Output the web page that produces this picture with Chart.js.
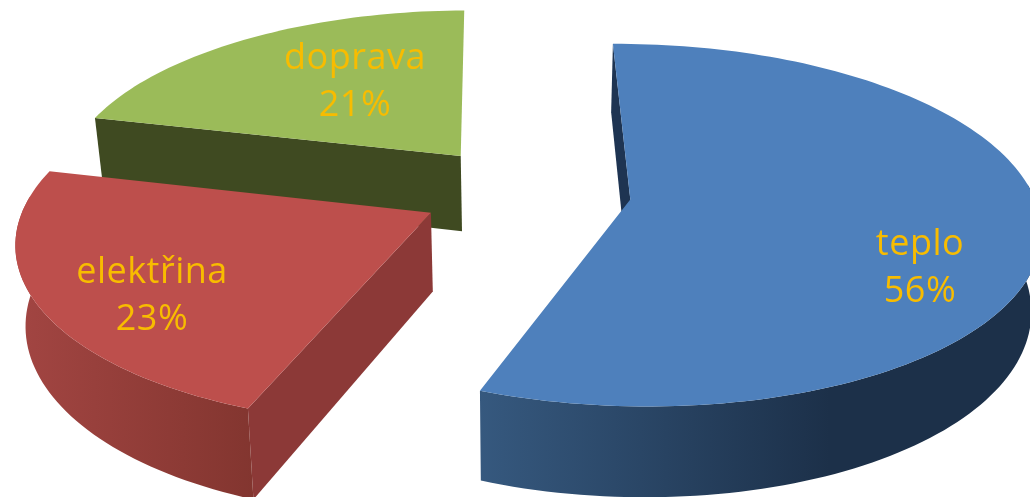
<!DOCTYPE html>
<html>
<head>
<meta charset="utf-8">
<script src="https://cdn.jsdelivr.net/npm/chart.js@4"></script>
<style>
  html, body { margin: 0; padding: 0; background: #fff; overflow: hidden; }
  canvas { display: block; }
</style>
</head>
<body>
<canvas id="energyPie" width="1030" height="497"></canvas>
<script>
const categories = ['teplo', 'elektřina', 'doprava'];
const shares = [56, 23, 21];

const topColors = ['#4e80bc', '#bd4f4c', '#9bbb59'];
const cutColors = ['#1e3452', '#8c3937', '#3f4a21'];
// outer wall shading, left to right on screen
const wallShades = [
    ['#36597f', '#1c3049', 477, 830],
    ['#a24542', '#82352f', 20, 258],
    ['#3f4a21', '#3f4a21', 90, 470]
];
const labelSpots = [[920, 245], [152, 273], [355, 59]];

// camera used for the tilted pie
const view = {
    radius: 405,
    originX: 525,
    originY: 200,
    tilt: 0.439,
    perspective: 0.00035,
    depth: 78,
    taper: 0.02,
    shiftZ: -20
};

function project(x, z, h) {
    const w = 1 - view.perspective * z;
    const s = (1 - view.taper * h) / w;
    return {
        x: view.originX + x * s,
        y: view.originY + (view.tilt * z + view.depth * h) / w
    };
}

function rimPoints(el, h) {
    const k = view.radius / el.outerRadius;
    const mid = (el.startAngle + el.endAngle) / 2;
    const ax = Math.cos(mid) * el.options.offset * k;
    const az = Math.sin(mid) * el.options.offset * k + view.shiftZ;
    const pts = [];
    const wall = [];
    const steps = Math.ceil((el.endAngle - el.startAngle) * 40);
    for (let i = 0; i <= steps; i++) {
        const a = el.startAngle + (el.endAngle - el.startAngle) * i / steps;
        const p = project(ax + Math.cos(a) * view.radius, az + Math.sin(a) * view.radius, h);
        pts.push(p);
        // the far side of the rim faces away from the camera
        if (Math.sin(a) > -0.1) wall.push(p);
    }
    return { pts, wall, apex: project(ax, az, h) };
}

function fillPath(ctx, pts, fill) {
    if (!pts.length) return;
    ctx.beginPath();
    pts.forEach((p, i) => (i ? ctx.lineTo(p.x, p.y) : ctx.moveTo(p.x, p.y)));
    ctx.closePath();
    ctx.fillStyle = fill;
    ctx.fill();
}

const extrudedPie = {
    id: 'extrudedPie',
    beforeDatasetDraw(chart, args) {
        const ctx = chart.ctx;
        const arcs = args.meta.data;

        // back slices first
        for (let i = arcs.length - 1; i >= 0; i--) {
            const top = rimPoints(arcs[i], 0);
            const low = rimPoints(arcs[i], 1);

            // only the face at the start angle can be seen from the camera
            fillPath(ctx, [top.apex, top.pts[0], low.pts[0], low.apex], cutColors[i]);

            const shade = wallShades[i];
            const grad = ctx.createLinearGradient(shade[2], 0, shade[3], 0);
            grad.addColorStop(0, shade[0]);
            grad.addColorStop(1, shade[1]);
            fillPath(ctx, top.wall.concat(low.wall.slice().reverse()), grad);

            fillPath(ctx, [top.apex].concat(top.pts), topColors[i]);
        }
        return false;
    },
    afterDraw(chart) {
        const ctx = chart.ctx;
        ctx.save();
        ctx.fillStyle = '#f8bc00';
        ctx.font = '36px "Open Sans"';
        ctx.letterSpacing = '0.5px';
        ctx.textAlign = 'center';
        ctx.textBaseline = 'middle';
        categories.forEach((name, i) => {
            const [x, y] = labelSpots[i];
            ctx.fillText(name, x, y);
            ctx.fillText(shares[i] + '%', x, y + 47);
        });
        ctx.restore();
    }
};

new Chart(document.getElementById('energyPie'), {
    type: 'pie',
    data: {
        labels: categories,
        datasets: [{
            data: shares,
            backgroundColor: topColors,
            borderWidth: 0,
            offset: [58, 57, 58]
        }]
    },
    options: {
        responsive: false,
        animation: false,
        rotation: -0.7,
        plugins: {
            legend: { display: false },
            tooltip: { enabled: false }
        }
    },
    plugins: [extrudedPie]
});
</script>
</body>
</html>
